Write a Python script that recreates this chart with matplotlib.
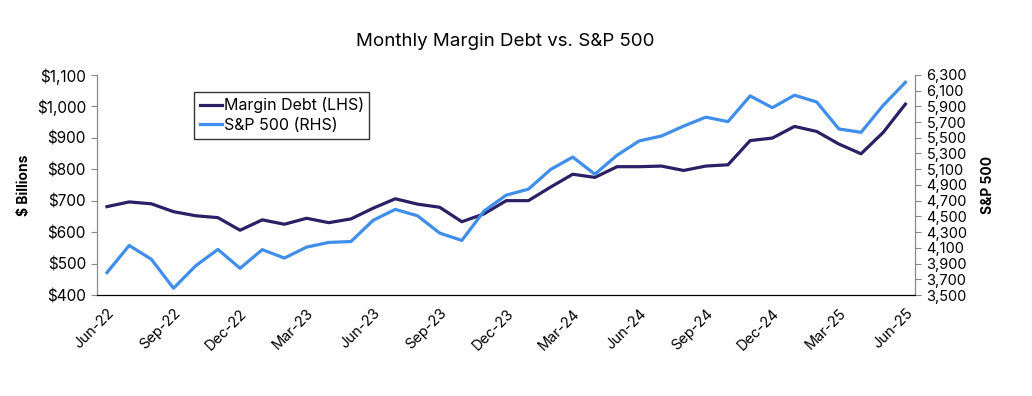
import matplotlib
matplotlib.use("Agg")
import matplotlib.pyplot as plt
import matplotlib.ticker as mticker
import pandas as pd

plt.rcParams['font.family'] = ['Inter', 'DejaVu Sans']

months = pd.date_range("2022-06-01", "2025-06-01", freq="MS")

margin_debt = [681, 696, 690, 665, 652, 646, 606, 639, 625, 644, 630, 642,
               676, 706, 689, 679, 633, 658, 700, 700, 743, 784, 774, 808,
               808, 810, 796, 810, 814, 891, 899, 936, 920, 880, 849, 917,
               1007]
sp500 = [3785, 4130, 3955, 3586, 3872, 4080, 3840, 4077, 3970, 4109, 4169, 4180,
         4450, 4589, 4508, 4288, 4194, 4568, 4770, 4846, 5096, 5254, 5036, 5278,
         5460, 5522, 5648, 5762, 5705, 6032, 5882, 6041, 5955, 5612, 5569, 5912,
         6205]

tick_labels = [d.strftime("%b-%y") for d in months[::3]]

dark = "#2b1f66"
light = "#3f8eea"

fig = plt.figure(figsize=(10.32, 3.96), dpi=100)
ax = fig.add_axes([0.094, 0.255, 0.793, 0.556])
ax2 = ax.twinx()

x = list(range(len(months)))
l1, = ax.plot(x, margin_debt, color=dark, lw=2.3, label="Margin Debt (LHS)")
l2, = ax2.plot(x, sp500, color=light, lw=2.3, label="S&P 500 (RHS)")

ax.set_xlim(-0.45, len(months) - 0.55)
ax.set_ylim(400, 1100)
ax.yaxis.set_major_locator(mticker.MultipleLocator(100))
ax.yaxis.set_major_formatter(mticker.FuncFormatter(lambda v, p: "${:,.0f}".format(v)))
ax2.set_ylim(3500, 6300)
ax2.yaxis.set_major_locator(mticker.FixedLocator(range(3500, 6301, 200)))
ax2.yaxis.set_major_formatter(mticker.FuncFormatter(lambda v, p: "{:,.0f}".format(v)))

ax.set_xticks(x[::3])
ax.set_xticklabels(tick_labels, rotation=45, ha="right", rotation_mode="anchor")
ax.tick_params(axis="x", length=0, labelsize=10.5, pad=8)
ax.tick_params(axis="y", length=4, color="#888888", labelsize=11, pad=4)
ax2.tick_params(axis="y", length=4, color="#888888", labelsize=10.5, pad=4)

for a in (ax, ax2):
    a.spines["top"].set_visible(False)
    a.spines["left"].set_color("#888888")
    a.spines["right"].set_color("#888888")
    a.spines["bottom"].set_color("black")

ax.set_ylabel("$ Billions", fontweight="bold", fontsize=10, labelpad=4)
ax2.set_ylabel("S&P 500", fontweight="bold", fontsize=10, labelpad=10)

fig.text(0.49, 0.885, "Monthly Margin Debt vs. S&P 500", ha="center", fontsize=13.5)

leg = ax.legend(handles=[l1, l2], loc="upper left", bbox_to_anchor=(0.109, 0.96),
                fontsize=11.5, frameon=True, fancybox=False, handlelength=1.4,
                handletextpad=0.1, borderpad=0.35, labelspacing=0.3)
leg.get_frame().set_edgecolor("black")
leg.get_frame().set_linewidth(1.0)

fig.savefig("out.png", dpi=100)
